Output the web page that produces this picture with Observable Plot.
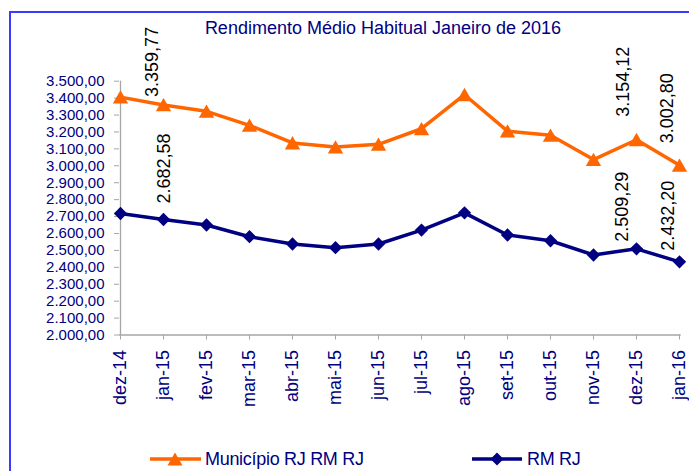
<!DOCTYPE html>
<html><head><meta charset="utf-8">
<script src="https://cdn.jsdelivr.net/npm/d3@7"></script>
<script src="https://cdn.jsdelivr.net/npm/@observablehq/plot@0.6"></script>
<style>
body{margin:0;background:#fff;font-family:"Liberation Sans",Arial,sans-serif;}
#wrap{position:relative;width:689px;height:471px;overflow:hidden;background:#fff;}
#chart{position:absolute;left:0;top:0;}
.fl{position:absolute;background:#3b3bff;}
#title{position:absolute;left:0;width:766px;top:19px;text-align:center;font-size:18px;line-height:18px;color:#000080;white-space:nowrap;}
.lg{position:absolute;top:450px;font-size:18px;line-height:18px;color:#000080;white-space:nowrap;letter-spacing:-0.3px;}
.sw{position:absolute;top:449px;}
</style></head>
<body>
<div id="wrap">
  <div id="chart"></div>
  <div class="fl" style="left:9px;top:11px;width:2px;height:460px;"></div>
  <div class="fl" style="left:9px;top:11px;width:680px;height:2px;"></div>
  <div id="title">Rendimento Médio Habitual Janeiro de 2016</div>
  <svg class="sw" style="left:148px" width="56" height="20"><line x1="2" y1="10" x2="53" y2="10" stroke="#FF6600" stroke-width="3.5"/><path d="M27,3.5 L34.5,16.5 L19.5,16.5 Z" fill="#FF6600"/></svg>
  <div class="lg" style="left:205px">Município RJ RM RJ</div>
  <svg class="sw" style="left:470px" width="56" height="20"><line x1="2" y1="10" x2="52" y2="10" stroke="#000080" stroke-width="3.5"/><path d="M27,3.5 L33.5,10 L27,16.5 L20.5,10 Z" fill="#000080"/></svg>
  <div class="lg" style="left:527px">RM RJ</div>
</div>
<script>
const months = ["dez-14","jan-15","fev-15","mar-15","abr-15","mai-15","jun-15","jul-15","ago-15","set-15","out-15","nov-15","dez-15","jan-16"];
const municipio = [3406, 3359.77, 3322, 3239, 3135, 3111, 3127, 3219, 3420, 3205, 3180, 3037, 3154.12, 3002.80];
const rmrj = [2718, 2682.58, 2650, 2581, 2538, 2516, 2538, 2620, 2722, 2591, 2557, 2473, 2509.29, 2432.20];
const yTicks = d3.range(2000, 3501, 100);
const labelIdx = [1, 12, 13];

const loc = d3.formatLocale({decimal: ",", thousands: ".", grouping: [3], currency: ["R$ ", ""]});
const fmt = loc.format(",.2f");

const NAVY = "#000080", ORANGE = "#FF6600", GRAY = "#a6a6a6";

const rowsMun = months.map((m, i) => ({month: m, value: municipio[i]}));
const rowsRm = months.map((m, i) => ({month: m, value: rmrj[i]}));

// label offsets (style only)
const munOffsets = [[-11, -8], [-13, -23], [-12, -22]];
const rmOffsets = [[1, -16], [-14, -7], [-11, -11]];

function labelMarks(rows, offs) {
  return labelIdx.map((idx, k) => Plot.text([rows[idx]], {
    x: "month", y: "value", text: d => fmt(d.value),
    rotate: -90, textAnchor: "start", lineAnchor: "middle",
    fontSize: 18, fill: "#000", dx: offs[k][0], dy: offs[k][1]
  }));
}

const chart = Plot.plot({
  width: 689, height: 471,
  marginLeft: 119, marginRight: 8.3, marginTop: 80.7, marginBottom: 136.5,
  style: {fontFamily: "'Liberation Sans', Arial, sans-serif", background: "transparent", overflow: "visible"},
  x: {type: "point", domain: months, padding: 0},
  y: {domain: [2000, 3500]},
  marks: [
    Plot.ruleY([2000], {stroke: GRAY, strokeWidth: 1.3}),
    Plot.ruleX([months[0]], {y1: 2000, y2: 3500, stroke: GRAY, strokeWidth: 1.3}),
    Plot.axisY({ticks: yTicks, tickFormat: fmt, tickSize: 5, tickPadding: 10, stroke: GRAY, fill: NAVY, fontSize: 15, label: null}),
    Plot.axisX({tickSize: 5, tickPadding: 10, tickRotate: -90, stroke: GRAY, fill: NAVY, fontSize: 18, label: null}),
    Plot.line(rowsMun, {x: "month", y: "value", stroke: ORANGE, strokeWidth: 3.5}),
    Plot.line(rowsRm, {x: "month", y: "value", stroke: NAVY, strokeWidth: 3.5}),
    Plot.dot(rowsMun, {x: "month", y: "value", symbol: "triangle", r: 5.7, fill: ORANGE, stroke: "none", dy: 2}),
    Plot.dot(rowsRm, {x: "month", y: "value", symbol: "diamond2", r: 6, fill: NAVY, stroke: "none"}),
    ...labelMarks(rowsMun, munOffsets),
    ...labelMarks(rowsRm, rmOffsets)
  ]
});
document.getElementById("chart").appendChild(chart);
</script>
</body></html>
